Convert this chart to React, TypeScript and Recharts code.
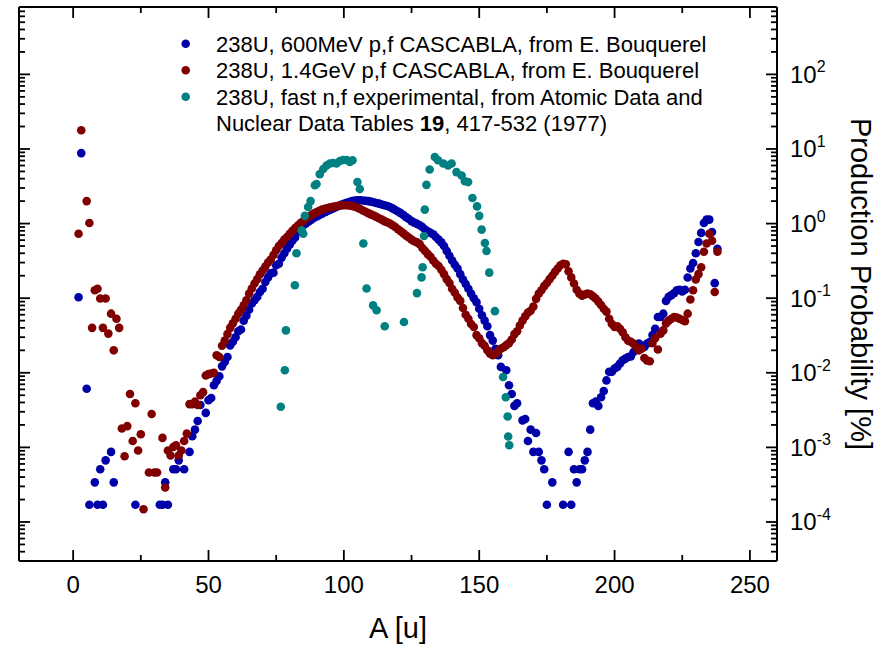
import React from 'react';
import { ScatterChart, Scatter, XAxis, YAxis, Legend, Label } from 'recharts';

const FONT = "'Liberation Sans', Arial, Helvetica, sans-serif";

// [A, production probability %]
const blue600 = [
  [2, 0.103], [3, 8.8], [5, 0.0061], [6, 1.7e-4], [8, 3.4e-4], [9, 1.7e-4], [10, 5.1e-4], [11, 1.7e-4],
  [12, 6.7e-4], [14, 8.7e-4], [15, 3.4e-4], [23, 1.7e-4], [32, 1.7e-4], [33, 1.7e-4], [34, 3.4e-4],
  [35, 1.7e-4], [37, 5.1e-4], [38, 5.1e-4], [39, 6.7e-4], [41, 5.1e-4], [43, 8.7e-4], [44, 1.41e-3],
  [45, 1.73e-3], [46, 2.26e-3], [47, 3.7e-3], [49, 2.9e-3], [50, 4.3e-3], [51, 4.6e-3], [52, 6.8e-3],
  [53, 7.8e-3], [54, 9.0e-3], [55, 0.0122], [56, 0.014], [57, 0.0163], [58, 0.0233], [59, 0.026],
  [60, 0.03], [61, 0.036], [62, 0.038], [63, 0.05], [64, 0.058], [65, 0.07], [66, 0.085], [67, 0.094],
  [68, 0.104], [69, 0.121], [70, 0.134], [71, 0.165], [72, 0.19], [73, 0.215], [74, 0.22], [75, 0.276],
  [76, 0.29], [77, 0.35], [78, 0.4], [79, 0.46], [80, 0.52], [81, 0.59], [82, 0.65], [83, 0.77],
  [84, 0.88], [85, 0.95], [86, 1.0], [87, 1.07], [88, 1.13], [89, 1.2], [90, 1.25], [91, 1.3],
  [92, 1.36], [93, 1.42], [94, 1.48], [95, 1.54], [96, 1.6], [97, 1.66], [98, 1.72], [99, 1.78],
  [100, 1.84], [101, 1.9], [102, 1.95], [103, 2.0], [104, 2.03], [105, 2.05], [106, 2.05], [107, 2.04],
  [108, 2.02], [109, 2.0], [110, 1.97], [111, 1.93], [112, 1.89], [113, 1.85], [114, 1.8], [115, 1.76],
  [116, 1.72], [117, 1.67], [118, 1.6], [119, 1.52], [120, 1.45], [121, 1.38], [122, 1.3], [123, 1.22],
  [124, 1.15], [125, 1.08], [126, 1.03], [127, 0.99], [128, 0.95], [129, 0.9], [130, 0.83], [131, 0.79],
  [132, 0.75], [133, 0.72], [134, 0.66], [135, 0.61], [136, 0.56], [137, 0.5], [138, 0.43], [139, 0.37],
  [140, 0.32], [141, 0.28], [142, 0.25], [143, 0.21], [144, 0.178], [145, 0.155], [146, 0.134],
  [147, 0.115], [148, 0.1], [149, 0.088], [150, 0.072], [151, 0.059], [152, 0.05], [153, 0.042],
  [154, 0.032], [155, 0.027], [156, 0.021], [157, 0.0172], [158, 0.012], [160, 0.0108], [161, 0.0068],
  [162, 0.0052], [163, 0.0036], [164, 0.0039], [166, 0.0023], [167, 0.0024], [168, 0.00122],
  [169, 0.00173], [170, 8.7e-4], [171, 0.00156], [172, 8.7e-4], [173, 6.7e-4], [174, 5.1e-4],
  [175, 1.7e-4], [177, 3.4e-4], [181, 1.7e-4], [183, 8.7e-4], [184, 1.7e-4], [185, 5.1e-4],
  [186, 3.4e-4], [187, 5.1e-4], [188, 5.1e-4], [189, 6.7e-4], [190, 8.7e-4], [191, 1.73e-3],
  [192, 3.9e-3], [193, 4.1e-3], [194, 3.6e-3], [195, 4.7e-3], [196, 5.7e-3], [197, 7.9e-3],
  [198, 0.0103], [199, 0.0103], [200, 0.0114], [201, 0.012], [202, 0.0133], [203, 0.0147],
  [204, 0.0155], [205, 0.0163], [206, 0.0166], [207, 0.019], [208, 0.021], [209, 0.0246], [210, 0.023],
  [211, 0.0222], [212, 0.0246], [213, 0.0259], [214, 0.032], [215, 0.039], [216, 0.056], [217, 0.056],
  [218, 0.062], [219, 0.092], [220, 0.104], [221, 0.11], [222, 0.117], [223, 0.128], [224, 0.13],
  [225, 0.123], [226, 0.13], [227, 0.189], [228, 0.25], [229, 0.296], [230, 0.4], [231, 0.566],
  [232, 0.75], [233, 1.02], [234, 1.13], [235, 1.13], [236, 0.77], [237, 0.159], [238, 0.46],
];

const red14 = [
  [2, 0.73], [3, 17.8], [5, 2.0], [6, 1.02], [7, 0.04], [8, 0.128], [9, 0.134], [10, 0.099], [11, 0.04],
  [12, 0.099], [13, 0.0335], [14, 0.062], [15, 0.02], [16, 0.053], [17, 0.04], [18, 1.79e-3],
  [19, 7.6e-4], [20, 1.93e-3], [21, 0.0052], [22, 1.22e-3], [23, 0.0039], [24, 9.1e-4], [25, 1.5e-3],
  [26, 1.48e-4], [28, 4.6e-4], [29, 2.8e-3], [30, 4.6e-4], [31, 4.6e-4], [33, 1.34e-3], [34, 2.9e-4],
  [35, 9.1e-4], [36, 7.8e-4], [37, 1.01e-3], [38, 1.07e-3], [39, 7.8e-4], [40, 9.1e-4], [41, 1.22e-3],
  [42, 1.53e-3], [43, 3.8e-3], [44, 3.8e-3], [45, 4.1e-3], [46, 3.7e-3], [47, 5.0e-3], [48, 5.5e-3],
  [49, 9.2e-3], [50, 9.6e-3], [51, 9.8e-3], [52, 0.01], [53, 0.0172], [54, 0.0163], [55, 0.023],
  [56, 0.027], [57, 0.033], [58, 0.04], [59, 0.046], [60, 0.053], [61, 0.062], [62, 0.07], [63, 0.08],
  [64, 0.094], [65, 0.115], [66, 0.135], [67, 0.157], [68, 0.18], [69, 0.209], [70, 0.235], [71, 0.265],
  [72, 0.3], [73, 0.33], [74, 0.38], [75, 0.44], [76, 0.5], [77, 0.55], [78, 0.61], [79, 0.66], [80, 0.73],
  [81, 0.8], [82, 0.87], [83, 0.94], [84, 1.02], [85, 1.08], [86, 1.15], [87, 1.22], [88, 1.3], [89, 1.37],
  [90, 1.43], [91, 1.48], [92, 1.54], [93, 1.58], [94, 1.62], [95, 1.65], [96, 1.68], [97, 1.71],
  [98, 1.73], [99, 1.75], [100, 1.76], [101, 1.76], [102, 1.75], [103, 1.72], [104, 1.68], [105, 1.63],
  [106, 1.57], [107, 1.5], [108, 1.44], [109, 1.38], [110, 1.33], [111, 1.28], [112, 1.23], [113, 1.18],
  [114, 1.13], [115, 1.08], [116, 1.04], [117, 1.0], [118, 0.95], [119, 0.9], [120, 0.84], [121, 0.79],
  [122, 0.74], [123, 0.69], [124, 0.65], [125, 0.61], [126, 0.58], [127, 0.56], [128, 0.53], [129, 0.47],
  [130, 0.43], [131, 0.39], [132, 0.36], [133, 0.32], [134, 0.29], [135, 0.27], [136, 0.24], [137, 0.21],
  [138, 0.18], [139, 0.16], [140, 0.134], [141, 0.118], [142, 0.102], [143, 0.092], [144, 0.074],
  [145, 0.06], [146, 0.053], [147, 0.045], [148, 0.041], [149, 0.032], [150, 0.029], [151, 0.025],
  [152, 0.023], [153, 0.02], [154, 0.018], [155, 0.0172], [156, 0.018], [157, 0.0195], [158, 0.021],
  [159, 0.022], [160, 0.0235], [161, 0.025], [162, 0.028], [163, 0.033], [164, 0.036], [165, 0.043],
  [166, 0.05], [167, 0.057], [168, 0.064], [169, 0.068], [170, 0.077], [171, 0.098], [172, 0.115],
  [173, 0.128], [174, 0.145], [175, 0.16], [176, 0.18], [177, 0.2], [178, 0.225], [179, 0.25],
  [180, 0.276], [181, 0.29], [182, 0.285], [183, 0.23], [184, 0.19], [185, 0.157], [186, 0.13],
  [187, 0.115], [188, 0.108], [189, 0.112], [190, 0.115], [191, 0.113], [192, 0.106], [193, 0.099],
  [194, 0.09], [195, 0.081], [196, 0.072], [197, 0.066], [198, 0.053], [199, 0.045], [200, 0.041],
  [201, 0.042], [202, 0.039], [203, 0.035], [204, 0.03], [205, 0.027], [206, 0.026], [207, 0.0246],
  [208, 0.022], [209, 0.02], [210, 0.021], [211, 0.0158], [212, 0.0146], [213, 0.0143], [214, 0.025],
  [215, 0.029], [216, 0.0205], [217, 0.0335], [218, 0.037], [219, 0.046], [220, 0.05], [221, 0.053],
  [222, 0.056], [223, 0.055], [224, 0.053], [225, 0.051], [226, 0.049], [227, 0.062], [228, 0.096],
  [229, 0.128], [230, 0.178], [231, 0.21], [232, 0.26], [233, 0.42], [234, 0.54], [235, 0.73],
  [236, 0.59], [237, 0.121], [238, 0.42],
];

const tealFast = [
  [76.7, 0.0035], [78.2, 0.0108], [78.6, 0.037], [81.9, 0.149], [82.5, 0.4], [84.4, 0.81], [85, 0.73],
  [85.6, 1.27], [86.8, 1.67], [87.7, 2.0], [89.3, 3.26], [89.9, 3.4], [91.1, 4.6], [92.4, 5.4],
  [93.6, 6.0], [94.8, 6.4], [96, 6.5], [97.3, 6.4], [98.5, 6.9], [99.7, 7.1], [101, 7.1], [102.2, 6.7],
  [103.2, 7.06], [105, 3.6], [105.9, 2.9], [107.2, 0.54], [108.4, 0.135], [110.8, 0.08], [112.1, 0.069],
  [115.1, 0.042], [122.2, 0.048], [127, 0.117], [128.7, 0.19], [129.1, 0.26], [129.6, 0.68],
  [129.9, 1.54], [130.5, 3.3], [131.7, 5.3], [133.6, 7.8], [134.8, 7.06], [136.7, 6.4], [138.5, 6.0],
  [139.8, 6.4], [141.6, 4.9], [143.5, 4.4], [144.7, 3.7], [145.9, 3.6], [147.5, 2.2], [149.2, 1.7],
  [150, 1.27], [150.9, 0.83], [152.1, 0.55], [152.7, 0.43], [153.7, 0.22], [155.8, 0.067],
  [158.8, 0.0088], [159.8, 0.0047], [160.5, 0.0026], [160.7, 0.0014], [161.1, 0.00107],
];

const seriesColors = ['#0000a8', '#800000', '#008080'];
const legendLines = [
  '238U, 600MeV p,f CASCABLA, from E. Bouquerel',
  '238U, 1.4GeV p,f CASCABLA, from E. Bouquerel',
  '238U, fast n,f experimental, from Atomic Data and',
];

const xTicks = [0, 25, 50, 75, 100, 125, 150, 175, 200, 225, 250];
const yExponents = [-5, -4, -3, -2, -1, 0, 1, 2];
const yDomain = [3e-5, 800];
const yTicks: number[] = [];
yExponents.forEach((e) => {
  for (let m = 1; m <= 9; m++) {
    const v = Number((m * Math.pow(10, e)).toPrecision(3));
    if (v >= yDomain[0] && v <= yDomain[1]) yTicks.push(v);
  }
});

const toPts = (arr: number[][]) => arr.map(([a, p]) => ({ a, p }));

const isMajorY = (v: number) => {
  const lg = Math.log10(v);
  return Math.abs(lg - Math.round(lg)) < 1e-6;
};

// plot frame edges (px)
const LEFT = 19, TOP = 7, RIGHT = 777, BOTTOM = 561;

const BottomTick = (props: any) => {
  const { x, payload } = props;
  const major = payload.value % 50 === 0;
  return (
    <g>
      <line x1={x} y1={BOTTOM} x2={x} y2={BOTTOM - (major ? 11 : 6)} stroke="#000" strokeWidth={1.8} />
      {major && (
        <text x={x} y={BOTTOM + 32} textAnchor="middle" fontSize={24} fontFamily={FONT} fill="#000">
          {payload.value}
        </text>
      )}
    </g>
  );
};

const TopTick = (props: any) => {
  const { x, payload } = props;
  const major = payload.value % 50 === 0;
  return <line x1={x} y1={TOP} x2={x} y2={TOP + (major ? 11 : 6)} stroke="#000" strokeWidth={1.8} />;
};

const LeftTick = (props: any) => {
  const { y, payload } = props;
  const major = isMajorY(payload.value);
  return <line x1={LEFT} y1={y} x2={LEFT + (major ? 11 : 6)} y2={y} stroke="#000" strokeWidth={1.8} />;
};

const RightTick = (props: any) => {
  const { y, payload } = props;
  const major = isMajorY(payload.value);
  const exp = Math.round(Math.log10(payload.value));
  return (
    <g>
      <line x1={RIGHT} y1={y} x2={RIGHT - (major ? 11 : 6)} y2={y} stroke="#000" strokeWidth={1.8} />
      {major && (
        <text x={RIGHT + 13} y={y + 8.5} fontSize={24} fontFamily={FONT} fill="#000">
          10
          <tspan fontSize={16} dy={-10.5}>
            {exp}
          </tspan>
        </text>
      )}
    </g>
  );
};

const XTitle = () => (
  <text x={(LEFT + RIGHT) / 2} y={BOTTOM + 77} textAnchor="middle" fontSize={29} fontFamily={FONT} fill="#000">
    A [u]
  </text>
);

const YTitle = () => {
  const x = RIGHT + 74;
  const y = (TOP + BOTTOM) / 2;
  return (
    <text x={x} y={y} transform={`rotate(90, ${x}, ${y})`} textAnchor="middle" fontSize={29} fontFamily={FONT} fill="#000">
      Production Probability [%]
    </text>
  );
};

const LegendBox = () => (
  <svg width={560} height={130}>
    {legendLines.map((t, i) => (
      <g key={t}>
        <circle cx={15.7} cy={23.7 + i * 26.5} r={4.3} fill={seriesColors[i]} />
        <text x={46} y={31.7 + i * 26.5} fontSize={22} fontFamily={FONT} fill="#000">
          {t}
        </text>
      </g>
    ))}
    <text x={46} y={31.7 + 3 * 26.5} fontSize={22} fontFamily={FONT} fill="#000">
      Nuclear Data Tables <tspan fontWeight="bold">19</tspan>, 417-532 (1977)
    </text>
  </svg>
);

const dot = (color: string) => (props: any) =>
  <circle cx={props.cx} cy={props.cy} r={4.3} fill={color} />;

const axisLine = { stroke: '#000', strokeWidth: 2 };

export default function App() {
  return (
    <div style={{ position: 'absolute', left: 0, top: 0, background: '#fff', fontFamily: FONT }}>
      <ScatterChart width={885} height={647} margin={{ top: 0, right: 0, bottom: 0, left: 0 }}>
        <XAxis xAxisId="b" type="number" dataKey="a" domain={[-20, 260]} ticks={xTicks} interval={0}
          allowDataOverflow height={647 - BOTTOM} tickSize={0} tickMargin={0} tickLine={false}
          axisLine={axisLine} tick={<BottomTick />}>
          <Label content={<XTitle />} />
        </XAxis>
        <XAxis xAxisId="t" orientation="top" type="number" dataKey="a" domain={[-20, 260]} ticks={xTicks}
          interval={0} allowDataOverflow height={TOP} tickSize={0} tickMargin={0} tickLine={false}
          axisLine={axisLine} tick={<TopTick />} />
        <YAxis yAxisId="l" type="number" dataKey="p" scale="log" domain={yDomain} ticks={yTicks} interval={0}
          allowDataOverflow width={LEFT} tickSize={0} tickMargin={0} tickLine={false} axisLine={axisLine}
          tick={<LeftTick />} />
        <YAxis yAxisId="r" orientation="right" type="number" dataKey="p" scale="log" domain={yDomain}
          ticks={yTicks} interval={0} allowDataOverflow width={885 - RIGHT} tickSize={0} tickMargin={0}
          tickLine={false} axisLine={axisLine} tick={<RightTick />}>
          <Label content={<YTitle />} />
        </YAxis>
        <Legend layout="horizontal" verticalAlign="middle" align="center" content={<LegendBox />}
          wrapperStyle={{ left: 170, top: 20, width: 560, height: 130 }} />
        <Scatter name={legendLines[0]} data={toPts(blue600)} xAxisId="b" yAxisId="l" fill={seriesColors[0]}
          shape={dot(seriesColors[0])} isAnimationActive={false} />
        <Scatter name={legendLines[1]} data={toPts(red14)} xAxisId="t" yAxisId="r" fill={seriesColors[1]}
          shape={dot(seriesColors[1])} isAnimationActive={false} />
        <Scatter name={legendLines[2]} data={toPts(tealFast)} xAxisId="b" yAxisId="r" fill={seriesColors[2]}
          shape={dot(seriesColors[2])} isAnimationActive={false} />
      </ScatterChart>
    </div>
  );
}
